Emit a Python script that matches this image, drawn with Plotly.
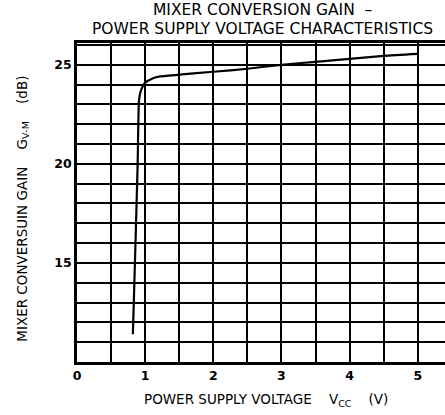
import plotly.graph_objects as go

# Data
vcc = [0.82, 0.85, 0.89, 0.91, 0.93, 0.97, 1.0, 1.1, 1.2, 1.5, 2.0, 2.5, 3.0, 3.5, 4.0, 4.5, 5.0]
gain = [11.4, 15.0, 20.0, 23.2, 23.6, 23.95, 24.1, 24.3, 24.4, 24.5, 24.65, 24.8, 25.0, 25.15, 25.3, 25.45, 25.55]

x_ticks = [0, 1, 2, 3, 4, 5]
y_ticks = [15, 20, 25]

title_line1 = "MIXER CONVERSION GAIN  –"
title_line2 = "POWER SUPPLY VOLTAGE CHARACTERISTICS"
x_title = "POWER SUPPLY VOLTAGE    V<sub>CC</sub>    (V)"
y_title = "MIXER CONVERSUIN GAIN    G<sub>V‑M</sub>    (dB)"

font_family = "DejaVu Sans, sans-serif"

fig = go.Figure()
fig.add_trace(go.Scatter(x=vcc, y=gain, mode="lines",
                         line=dict(color="black", width=2.2, shape="spline", smoothing=0.6),
                         showlegend=False, hoverinfo="skip"))

grid = dict(showgrid=True, gridcolor="black", gridwidth=1.5)

fig.update_layout(
    width=445, height=415,
    margin=dict(l=77, r=0, t=43, b=53),
    paper_bgcolor="white", plot_bgcolor="white",
    font=dict(family=font_family, color="black"),
    xaxis=dict(range=[0, 5.4], tickvals=x_ticks, ticktext=[str(v) for v in x_ticks],
               minor=dict(dtick=0.5, tick0=0, ticks="", **grid), **grid,
               showline=True, linecolor="black", linewidth=2.5, mirror=True,
               ticks="", zeroline=False, automargin=False,
               tickfont=dict(size=12.5, weight="bold", family=font_family)),
    yaxis=dict(range=[10, 26.1], tickvals=y_ticks, ticktext=[str(v) for v in y_ticks],
               minor=dict(dtick=1, tick0=10, ticks="", **grid), **grid,
               showline=True, linecolor="black", linewidth=2.5,
               ticks="", zeroline=False, automargin=False,
               tickfont=dict(size=12.5, weight="bold", family=font_family)),
)

ann_font = dict(family=font_family, color="black")
fig.add_annotation(text=title_line1, xref="paper", yref="paper", x=0.505, y=1.105,
                   xanchor="center", yanchor="middle", showarrow=False,
                   font=dict(size=15.5, **ann_font))
fig.add_annotation(text=title_line2, xref="paper", yref="paper", x=0.505, y=1.0439,
                   xanchor="center", yanchor="middle", showarrow=False,
                   font=dict(size=15.5, **ann_font))
fig.add_annotation(text=x_title, xref="paper", yref="paper", x=0.514, y=-0.12,
                   xanchor="center", yanchor="middle", showarrow=False,
                   font=dict(size=13.5, **ann_font))
fig.add_annotation(text=y_title, xref="paper", yref="paper", x=-0.149, y=0.481,
                   xanchor="center", yanchor="middle", showarrow=False, textangle=-90,
                   font=dict(size=13.5, **ann_font))

fig.write_html("out.html", config={"displayModeBar": False},
               post_script="document.body.style.margin='0px';")
